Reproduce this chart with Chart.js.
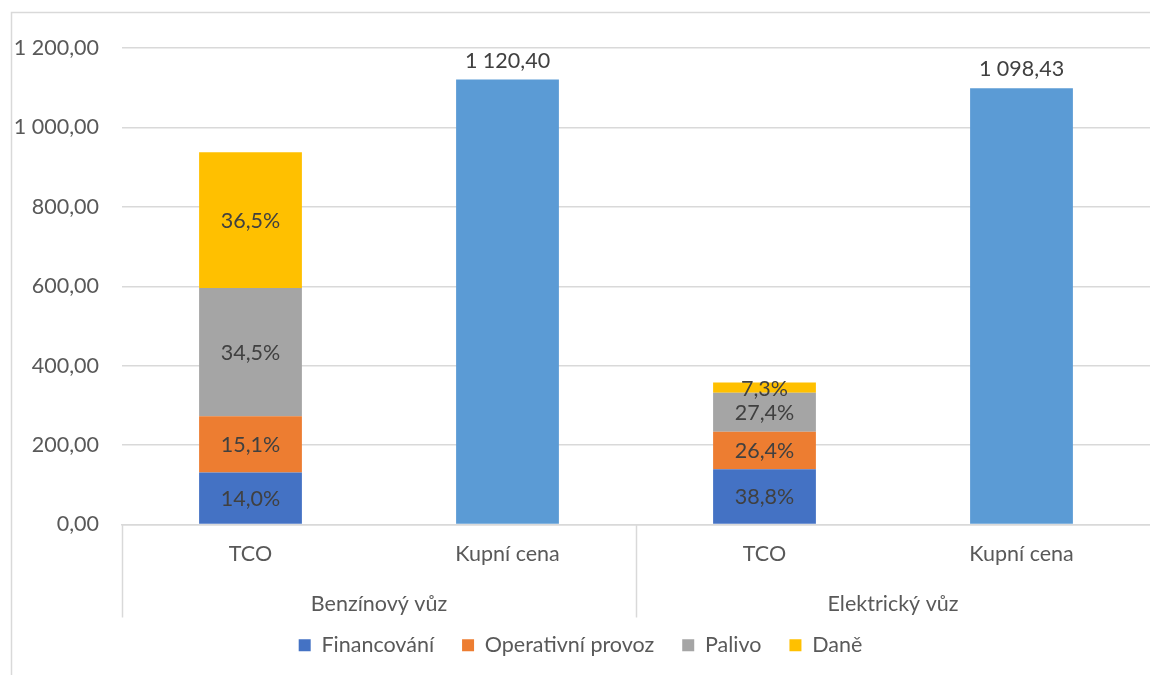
<!DOCTYPE html>
<html>
<head>
<meta charset="utf-8">
<script src="https://cdn.jsdelivr.net/npm/chart.js@4/dist/chart.umd.min.js"></script>
<style>
  html, body { margin: 0; padding: 0; background: #fff; }
  #wrap { width: 1150px; height: 675px; }
</style>
</head>
<body>
<div id="wrap"><canvas id="c" width="1150" height="675"></canvas></div>
<script>
// categories
const categories = ['TCO', 'Kupní cena', 'TCO', 'Kupní cena'];
const groups = ['Benzínový vůz', 'Elektrický vůz'];

// TCO parts
const financovani = [131, null, 139, null];
const operativni = [141.5, null, 94.5, null];
const palivo = [323, null, 98, null];
const dane = [342, null, 26, null];
const kupniCena = [null, 1120.40, null, 1098.43];

// labels shown inside the TCO segments
const pctFinancovani = ['14,0%', '', '38,8%', ''];
const pctOperativni = ['15,1%', '', '26,4%', ''];
const pctPalivo = ['34,5%', '', '27,4%', ''];
const pctDane = ['36,5%', '', '7,3%', ''];

const yTicks = [0, 200, 400, 600, 800, 1000, 1200];

const FONT = 'Lato, "Open Sans", sans-serif';
const FS = 21.5;
const AXIS_COLOR = '#595959';
const LABEL_COLOR = '#404040';
const LINE_COLOR = '#d9d9d9';

function fmt(v) {
  const parts = v.toFixed(2).split('.');
  return parts[0].replace(/\B(?=(\d{3})+(?!\d))/g, ' ') + ',' + parts[1];
}

const labelsPlugin = {
  id: 'labels',
  afterDatasetsDraw(chart) {
    const ctx = chart.ctx;
    ctx.save();
    ctx.font = FS + 'px ' + FONT;
    ctx.fillStyle = LABEL_COLOR;
    ctx.textAlign = 'center';
    ctx.textBaseline = 'middle';
    chart.data.datasets.forEach((ds, i) => {
      const meta = chart.getDatasetMeta(i);
      meta.data.forEach((bar, j) => {
        if (ds.data[j] == null) return;
        if (ds.pct) {
          const mid = (bar.y + bar.base) / 2;
          ctx.fillText(ds.pct[j], bar.x, mid + 1);
        } else {
          ctx.fillText(fmt(ds.data[j]), bar.x, bar.y - 19);
        }
      });
    });
    ctx.restore();
  }
};

const framePlugin = {
  id: 'frame',
  afterDraw(chart) {
    const ctx = chart.ctx;
    const x = chart.scales.x;
    const area = chart.chartArea;
    ctx.save();
    ctx.strokeStyle = LINE_COLOR;
    ctx.lineWidth = 1.5;
    // outer chart border
    ctx.beginPath();
    ctx.moveTo(11.5, 675);
    ctx.lineTo(11.5, 12.5);
    ctx.lineTo(1150, 12.5);
    ctx.stroke();
    // group separators below the axis
    const bottom = area.bottom + 93;
    const mid = (x.getPixelForValue(1) + x.getPixelForValue(2)) / 2;
    [x.left, mid].forEach(px => {
      ctx.beginPath();
      ctx.moveTo(Math.round(px) + 0.5, area.bottom);
      ctx.lineTo(Math.round(px) + 0.5, bottom);
      ctx.stroke();
    });
    // group labels
    ctx.font = FS + 'px ' + FONT;
    ctx.fillStyle = AXIS_COLOR;
    ctx.textAlign = 'center';
    ctx.textBaseline = 'middle';
    groups.forEach((g, k) => {
      const cx = (x.getPixelForValue(2 * k) + x.getPixelForValue(2 * k + 1)) / 2;
      ctx.fillText(g, cx, area.bottom + 80);
    });
    ctx.restore();
  }
};

new Chart(document.getElementById('c'), {
  type: 'bar',
  data: {
    labels: categories,
    datasets: [
      { label: 'Financování', data: financovani, pct: pctFinancovani, backgroundColor: '#4472C4' },
      { label: 'Operativní provoz', data: operativni, pct: pctOperativni, backgroundColor: '#ED7D31' },
      { label: 'Palivo', data: palivo, pct: pctPalivo, backgroundColor: '#A5A5A5' },
      { label: 'Daně', data: dane, pct: pctDane, backgroundColor: '#FFC000' },
      { label: 'Kupní cena', data: kupniCena, backgroundColor: '#5B9BD5' }
    ]
  },
  options: {
    responsive: false,
    animation: false,
    barPercentage: 0.4,
    categoryPercentage: 1,
    layout: { padding: { top: 48, left: 11, right: 0, bottom: 9 } },
    plugins: {
      legend: {
        position: 'bottom',
        labels: {
          filter: item => item.text !== 'Kupní cena',
          font: { family: FONT, size: FS },
          color: AXIS_COLOR,
          boxWidth: 12,
          boxHeight: 12,
          padding: 28
        }
      },
      tooltip: { enabled: false }
    },
    scales: {
      x: {
        stacked: true,
        grid: { display: false, drawTicks: false },
        border: { color: LINE_COLOR, width: 1.5 },
        ticks: { font: { family: FONT, size: FS }, color: AXIS_COLOR, padding: 17 },
        afterFit(s) { s.height = 82; }
      },
      y: {
        stacked: true,
        min: 0,
        max: 1200,
        afterBuildTicks(s) { s.ticks = yTicks.map(v => ({ value: v })); },
        grid: { color: LINE_COLOR, lineWidth: 1.5, drawTicks: false },
        border: { display: false },
        ticks: {
          font: { family: FONT, size: FS },
          color: AXIS_COLOR,
          padding: 23,
          callback: v => fmt(v)
        },
        afterFit(s) { s.width = 111; }
      }
    }
  },
  plugins: [labelsPlugin, framePlugin]
});
</script>
</body>
</html>
